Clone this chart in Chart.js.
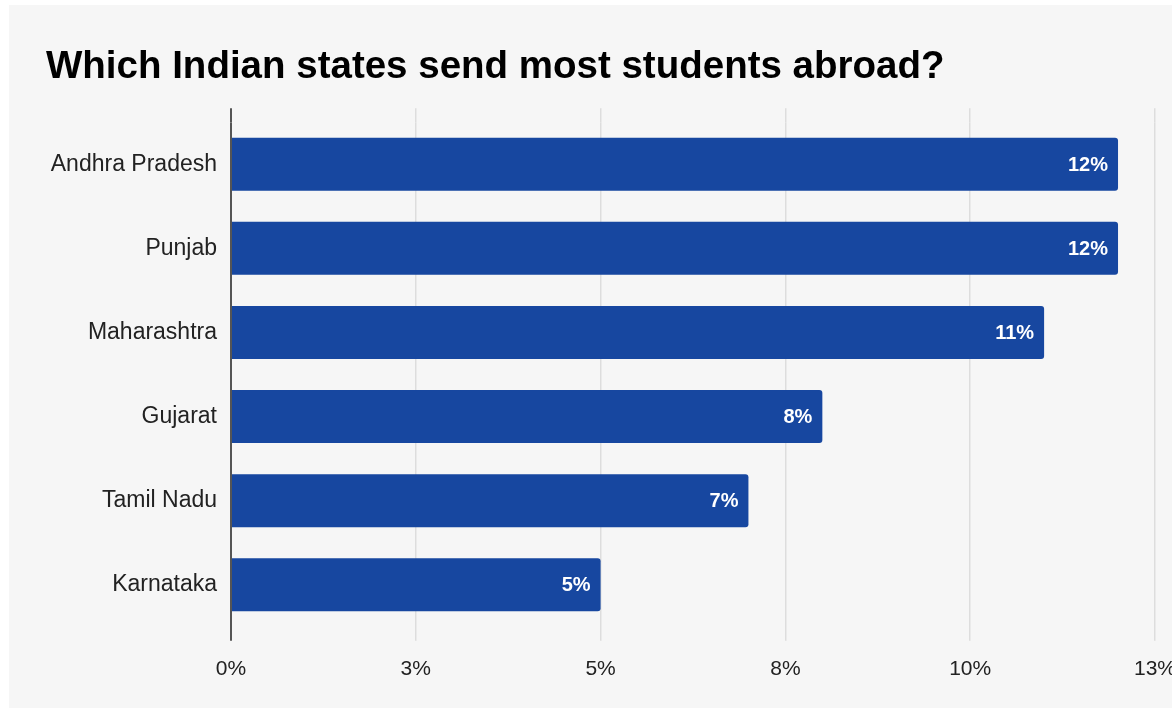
<!DOCTYPE html>
<html>
<head>
<meta charset="utf-8">
<script src="https://cdn.jsdelivr.net/npm/chart.js@4/dist/chart.umd.min.js"></script>
<style>
  html, body { margin: 0; padding: 0; background: #ffffff; overflow: hidden; }
  body { width: 1172px; height: 708px; position: relative; }
  .panel { position: absolute; left: 9px; top: 5px; right: 0; bottom: 0; background: #f6f6f6; }
  .wrap { position: absolute; left: 0; top: 0; width: 1192px; height: 708px; }
</style>
</head>
<body>
<div class="panel"></div>
<div class="wrap"><canvas id="statesChart"></canvas></div>
<script>
const states = ['Andhra Pradesh', 'Punjab', 'Maharashtra', 'Gujarat', 'Tamil Nadu', 'Karnataka'];
const shares = [12, 12, 11, 8, 7, 5];
const shareLabels = ['12%', '12%', '11%', '8%', '7%', '5%'];
const tickLabels = ['0%', '3%', '5%', '8%', '10%', '13%'];

const barColor = '#1747a0';
const labelFont = '"Liberation Sans", Arial, Helvetica, sans-serif';

// white value labels inside the bar ends
const valueLabels = {
    id: 'valueLabels',
    afterDatasetsDraw(chart) {
        const ctx = chart.ctx;
        const meta = chart.getDatasetMeta(0);
        ctx.save();
        ctx.fillStyle = '#ffffff';
        ctx.font = 'bold 20px ' + labelFont;
        ctx.textAlign = 'right';
        ctx.textBaseline = 'middle';
        meta.data.forEach((bar, i) => {
            ctx.fillText(shareLabels[i], bar.x - 10, bar.y + 1);
        });
        ctx.restore();
    }
};

const ctx1 = document.getElementById('statesChart').getContext('2d');
const statesChart = new Chart(ctx1, {
    type: 'bar',
    data: {
        labels: states,
        datasets: [{
            data: shares,
            backgroundColor: barColor,
            borderRadius: { topLeft: 0, bottomLeft: 0, topRight: 3, bottomRight: 3 },
            borderSkipped: 'start',
            categoryPercentage: 1,
            barPercentage: 0.63
        }]
    },
    options: {
        indexAxis: 'y',
        responsive: true,
        maintainAspectRatio: false,
        animation: false,
        layout: { padding: { left: 46, right: 0, top: 0, bottom: 10 } },
        plugins: {
            legend: { display: false },
            tooltip: { enabled: false },
            title: {
                display: true,
                text: 'Which Indian states send most students abroad?',
                align: 'start',
                color: '#000000',
                font: { family: labelFont, size: 38.5, weight: 'bold' },
                padding: { top: 44, bottom: 18 }
            }
        },
        scales: {
            x: {
                min: 0,
                max: 12.5,
                position: 'bottom',
                border: { display: false },
                grid: {
                    color: ctx => ctx.tick && ctx.tick.value === 0 ? '#555555' : '#dddddd',
                    lineWidth: ctx => ctx.tick && ctx.tick.value === 0 ? 2 : 1.5,
                    tickLength: 14
                },
                ticks: {
                    stepSize: 2.5,
                    color: '#222222',
                    padding: 16,
                    maxRotation: 0,
                    font: { family: labelFont, size: 21 },
                    callback: (value, index) => tickLabels[index]
                }
            },
            xTop: {
                type: 'linear',
                axis: 'x',
                min: 0,
                max: 12.5,
                position: 'top',
                border: { display: false },
                grid: {
                    drawOnChartArea: false,
                    color: ctx => ctx.tick && ctx.tick.value === 0 ? '#555555' : '#dddddd',
                    lineWidth: ctx => ctx.tick && ctx.tick.value === 0 ? 2 : 1.5,
                    tickLength: 14
                },
                ticks: { stepSize: 2.5, display: false }
            },
            y: {
                border: { display: false },
                grid: { display: false },
                ticks: {
                    color: '#222222',
                    padding: 6,
                    font: { family: labelFont, size: 23 }
                },
                afterFit: scale => { scale.width = 185; }
            }
        }
    },
    plugins: [valueLabels]
});
</script>
</body>
</html>
